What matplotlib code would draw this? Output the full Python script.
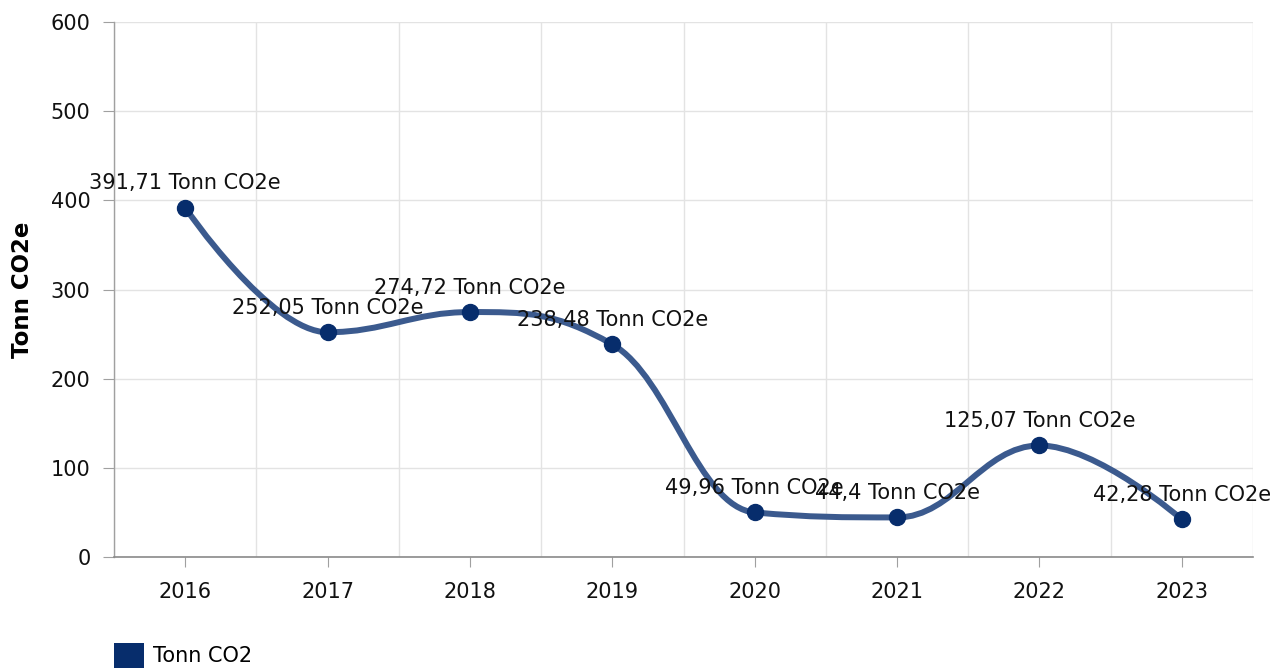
import numpy as np
import matplotlib.pyplot as plt
from matplotlib.path import Path
from matplotlib.patches import PathPatch, Patch
from matplotlib import rcParams

rcParams['font.family'] = 'DejaVu Sans'

years = ['2016', '2017', '2018', '2019', '2020', '2021', '2022', '2023']
values = [391.71, 252.05, 274.72, 238.48, 49.96, 44.4, 125.07, 42.28]
labels = ['391,71', '252,05', '274,72', '238,48', '49,96', '44,4', '125,07', '42,28']
unit = 'Tonn CO2e'
series_name = 'Tonn CO2'

line_color = '#3b5a8e'
marker_color = '#072d6c'
fs = 15


def spline_path(xs, ys, smoothing=1.5):
    # highcharts-style spline through the points
    denom = smoothing + 1
    n = len(xs)
    lc = [None] * n
    rc = [None] * n
    for i in range(1, n - 1):
        px, py = xs[i], ys[i]
        lx, ly = xs[i - 1], ys[i - 1]
        nx, ny = xs[i + 1], ys[i + 1]
        lcx = (smoothing * px + lx) / denom
        lcy = (smoothing * py + ly) / denom
        rcx = (smoothing * px + nx) / denom
        rcy = (smoothing * py + ny) / denom
        corr = (rcy - lcy) * (rcx - px) / (rcx - lcx) + py - rcy
        lcy += corr
        rcy += corr
        if lcy > ly and lcy > py:
            lcy = max(ly, py)
            rcy = 2 * py - lcy
        elif lcy < ly and lcy < py:
            lcy = min(ly, py)
            rcy = 2 * py - lcy
        if rcy > ny and rcy > py:
            rcy = max(ny, py)
            lcy = 2 * py - rcy
        elif rcy < ny and rcy < py:
            rcy = min(ny, py)
            lcy = 2 * py - rcy
        lc[i] = (lcx, lcy)
        rc[i] = (rcx, rcy)
    verts = [(xs[0], ys[0])]
    codes = [Path.MOVETO]
    for i in range(1, n):
        c1 = rc[i - 1] if rc[i - 1] is not None else (xs[i - 1], ys[i - 1])
        c2 = lc[i] if lc[i] is not None else (xs[i], ys[i])
        verts += [c1, c2, (xs[i], ys[i])]
        codes += [Path.CURVE4] * 3
    return Path(verts, codes)


fig = plt.figure(figsize=(12.79, 6.71), dpi=100)
ax = fig.add_axes([114 / 1279, 114 / 671, (1253 - 114) / 1279, (557 - 22) / 671])

x = np.arange(len(years))
path = spline_path(list(x), values)
ax.add_patch(PathPatch(path, facecolor='none', edgecolor=line_color, lw=4.3,
                       capstyle='round', joinstyle='round', zorder=3))
ax.plot(x, values, 'o', color=marker_color, markersize=11.5, zorder=4)

for xi, v, lab in zip(x, values, labels):
    ax.annotate(f'{lab} {unit}', (xi, v), xytext=(0, 17.5), textcoords='offset points',
                ha='center', va='center', fontsize=fs, color='#111111', zorder=5,
                annotation_clip=False)

ax.set_xlim(-0.5, len(years) - 0.5)
ax.set_ylim(0, 600)
ax.set_yticks(np.arange(0, 601, 100))
ax.set_xticks(x)
ax.set_xticklabels(years)
ax.set_xticks(np.arange(-0.5, len(years), 1), minor=True)
ax.grid(False)
ax.grid(True, which='minor', axis='x', color='#e3e3e3', lw=1)
ax.grid(True, which='major', axis='y', color='#e3e3e3', lw=1)
ax.set_axisbelow(True)

for s in ['top', 'right']:
    ax.spines[s].set_visible(False)
ax.spines['left'].set_color('#a0a0a0')
ax.spines['bottom'].set_color('#8a8a8a')
ax.spines['left'].set_linewidth(1)
ax.spines['bottom'].set_linewidth(1.2)

ax.tick_params(axis='y', length=8, color='#a0a0a0', pad=9, labelsize=fs, labelcolor='#111111')
ax.tick_params(axis='x', which='major', length=7, color='#a0a0a0', pad=11, labelsize=fs,
               labelcolor='#111111')
ax.tick_params(axis='x', which='minor', length=0)

ax.set_ylabel(unit, fontsize=16.5, fontweight='bold', labelpad=12)

leg = fig.legend(handles=[Patch(facecolor=marker_color, edgecolor='none', label=series_name)],
                 loc='upper left', bbox_to_anchor=(114 / 1279, 1 - 643 / 671),
                 frameon=False, fontsize=fs, handlelength=1.45, handleheight=1.45,
                 handletextpad=0.4, borderpad=0, borderaxespad=0)

fig.savefig('out.png', dpi=100)
